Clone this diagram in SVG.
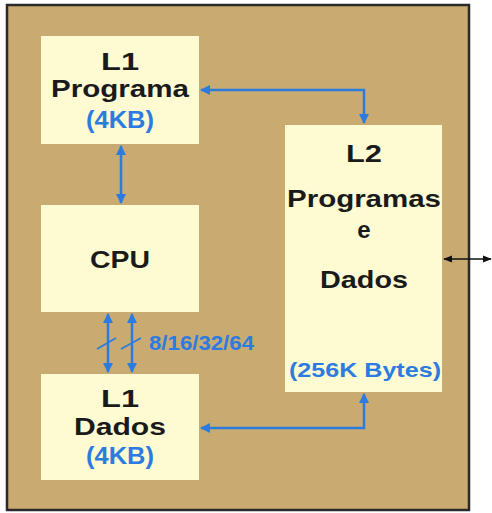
<svg xmlns="http://www.w3.org/2000/svg" width="492" height="513" viewBox="0 0 492 513">
<style>
.box{fill:#FEFBD3}
.t{font-family:"Liberation Sans",Arial,sans-serif;font-weight:bold;text-anchor:middle;fill:#1a1a1a}
.b{fill:#2C7BE0}
.c{stroke:#2C7BE0;stroke-width:2.5;fill:none}
</style>
<defs>
<marker id="ah" viewBox="0 0 10 10" refX="9" refY="5" markerWidth="4" markerHeight="4" orient="auto-start-reverse"><path d="M0,0 L10,5 L0,10 z" fill="#2C7BE0"/></marker>
<marker id="bh" viewBox="0 0 10 10" refX="9" refY="5" markerWidth="6" markerHeight="6" orient="auto-start-reverse"><path d="M0,1 L10,5 L0,9 z" fill="#111"/></marker>
</defs>
<rect x="0" y="0" width="492" height="513" fill="#fff"/>
<rect x="7" y="5" width="462" height="505" fill="#C9AB71" stroke="#2a2a2a" stroke-width="2.5"/>
<g id="l1p">
<rect class="box" x="41" y="36" width="158" height="108"/>
<text class="t" x="120" y="70" font-size="24" textLength="38" lengthAdjust="spacingAndGlyphs">L1</text>
<text class="t" x="120" y="97" font-size="24" textLength="138" lengthAdjust="spacingAndGlyphs">Programa</text>
<text class="t b" x="120" y="128" font-size="23" textLength="68" lengthAdjust="spacingAndGlyphs">(4KB)</text>
</g>
<g id="cpu">
<rect class="box" x="41" y="205" width="158" height="107"/>
<text class="t" x="120" y="268" font-size="24" textLength="60" lengthAdjust="spacingAndGlyphs">CPU</text>
</g>
<g id="l1d">
<rect class="box" x="41" y="374" width="158" height="106"/>
<text class="t" x="120" y="407" font-size="24" textLength="38" lengthAdjust="spacingAndGlyphs">L1</text>
<text class="t" x="120" y="435" font-size="24" textLength="92" lengthAdjust="spacingAndGlyphs">Dados</text>
<text class="t b" x="120" y="464" font-size="23" textLength="68" lengthAdjust="spacingAndGlyphs">(4KB)</text>
</g>
<g id="l2">
<rect class="box" x="285" y="125" width="157" height="267"/>
<text class="t" x="364" y="162" font-size="24" textLength="36" lengthAdjust="spacingAndGlyphs">L2</text>
<text class="t" x="364" y="207" font-size="24" textLength="154" lengthAdjust="spacingAndGlyphs">Programas</text>
<text class="t" x="364" y="238" font-size="24">e</text>
<text class="t" x="364" y="288" font-size="24" textLength="88" lengthAdjust="spacingAndGlyphs">Dados</text>
<text class="t b" x="365" y="377" font-size="21" textLength="152" lengthAdjust="spacingAndGlyphs">(256K Bytes)</text>
</g>
<g id="connectors">
<path class="c" d="M201,90 H364 V123" marker-start="url(#ah)" marker-end="url(#ah)"/>
<path class="c" d="M121,146 V203" marker-start="url(#ah)" marker-end="url(#ah)"/>
<path class="c" d="M108,314 V372" marker-start="url(#ah)" marker-end="url(#ah)"/>
<path class="c" d="M132,314 V372" marker-start="url(#ah)" marker-end="url(#ah)"/>
<path d="M97,349 L116,338 M121,349 L141,338" stroke="#2C7BE0" stroke-width="1.8" fill="none"/>
<path class="c" d="M201,428 H364 V394" marker-start="url(#ah)" marker-end="url(#ah)"/>
<path d="M444,259 H491" stroke="#111" stroke-width="1.5" fill="none" marker-start="url(#bh)" marker-end="url(#bh)"/>
<text class="t b" x="149" y="350" font-size="20" style="text-anchor:start" textLength="105" lengthAdjust="spacingAndGlyphs">8/16/32/64</text>
</g>
</svg>
